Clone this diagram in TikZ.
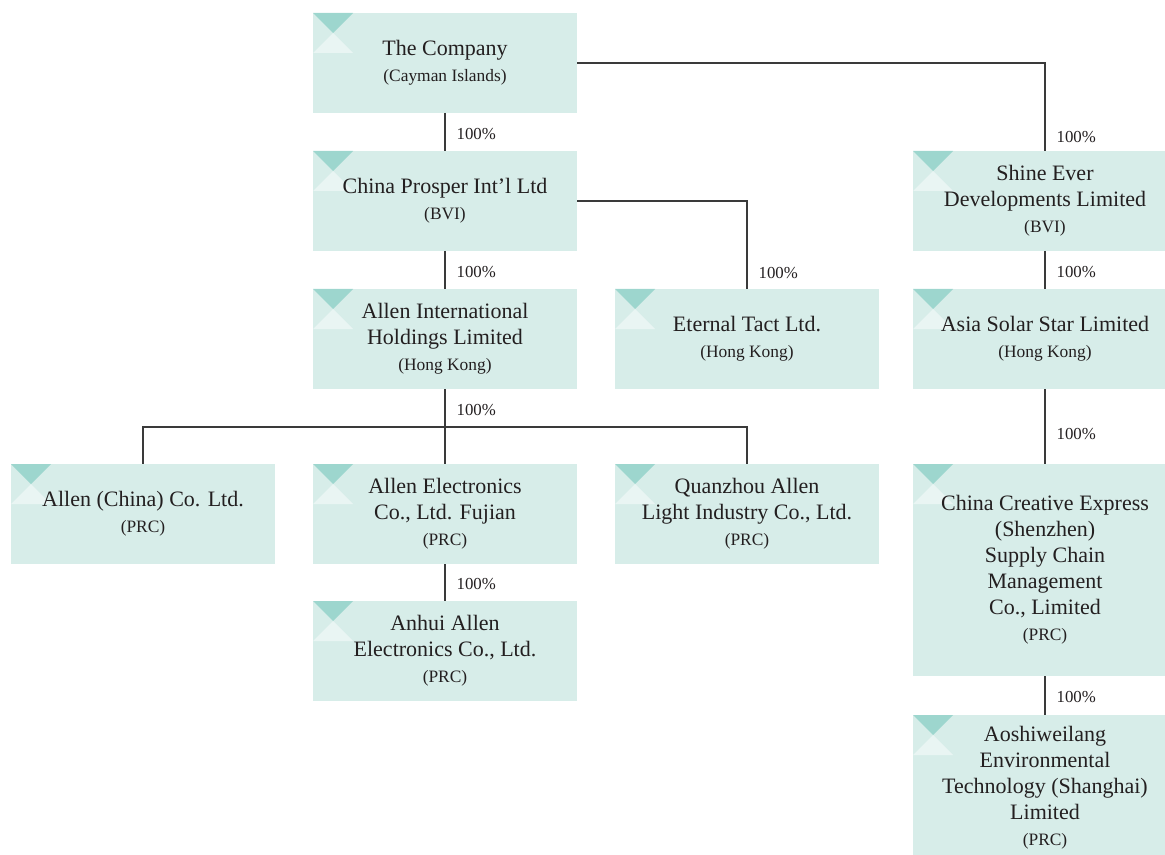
\documentclass[tikz,border=0pt]{standalone}
\usepackage{fontspec}
\setmainfont{Liberation Serif}
\usepackage{xcolor}
\usetikzlibrary{positioning, calc}
\definecolor{boxfill}{HTML}{D7EDE9}
\definecolor{cornerdark}{HTML}{9DD6CE}
\definecolor{cornerlight}{HTML}{E9F5F3}
\definecolor{linkgray}{HTML}{3A3A3A}
\definecolor{textdark}{HTML}{231F20}
\newcommand{\subname}[1]{{\fontsize{8.7}{13}\selectfont #1}}

\tikzset{
  entity/.style={rectangle, fill=boxfill, inner sep=0pt, outer sep=0pt,
    minimum width=132pt, minimum height=50pt, align=center,
    text=textdark, font=\fontsize{11}{13}\selectfont,
    path picture={
      \fill[cornerdark] (path picture bounding box.north west)
        -- ++(20pt,0) -- ++(-10pt,-10pt) -- cycle;
      \fill[cornerlight] (path picture bounding box.north west)
        ++(10pt,-10pt) -- ++(10pt,-10pt) -- ++(-20pt,0) -- cycle;
    }},
  link/.style={draw=linkgray, line width=0.65pt},
  pct/.style={anchor=west, inner sep=0pt, xshift=5.5pt, yshift=-0.8pt,
    text=textdark, font=\fontsize{8.4}{10}\selectfont}
}

\begin{document}
\begin{tikzpicture}[x=0.5pt, y=-0.5pt]

  \clip (0,0) rectangle (1165,855);

  %% Entities
  \node[entity] (company) at (445,63) {The Company\\\subname{(Cayman Islands)}};
  \node[entity] (prosper) at (445,201) {China Prosper Int'l Ltd\\\subname{(BVI)}};
  \node[entity] (allenintl) at (445,339) {Allen International\\Holdings Limited\\\subname{(Hong Kong)}};
  \node[entity] (eternal) at (747,339) {Eternal Tact Ltd.\\\subname{(Hong Kong)}};
  \node[entity] (shine) at (1045,201) {Shine Ever\\Developments Limited\\\subname{(BVI)}};
  \node[entity] (asiasolar) at (1045,339) {Asia Solar Star Limited\\\subname{(Hong Kong)}};
  \node[entity] (allenchina) at (143,514) {Allen (China) Co. Ltd.\\\subname{(PRC)}};
  \node[entity] (fujian) at (445,514) {Allen Electronics\\Co., Ltd. Fujian\\\subname{(PRC)}};
  \node[entity] (quanzhou) at (747,514) {Quanzhou Allen\\Light Industry Co., Ltd.\\\subname{(PRC)}};
  \node[entity] (anhui) at (445,651) {Anhui Allen\\Electronics Co., Ltd.\\\subname{(PRC)}};
  \node[entity, minimum height=106pt] (creative) at (1045,570)
    {China Creative Express\\(Shenzhen)\\Supply Chain\\Management\\Co., Limited\\\subname{(PRC)}};
  \node[entity, minimum height=73pt] (aoshi) at (1045,788)
    {Aoshiweilang\\Environmental\\Technology (Shanghai)\\Limited\\\subname{(PRC)}};

  %% Ownership links
  \draw[link] (company) -- node[pct] {100\%} (prosper);
  \draw[link] (company.east) -| node[pct, pos=0.91] {100\%} (shine.north);
  \draw[link] (prosper) -- node[pct] {100\%} (allenintl);
  \draw[link] (prosper.east) -| node[pct, pos=0.9] {100\%} (eternal.north);
  \draw[link] (shine) -- node[pct] {100\%} (asiasolar);
  \draw[link] (asiasolar) -- node[pct, pos=0.58] {100\%} (creative);
  \draw[link] (creative) -- node[pct] {100\%} (aoshi);
  \draw[link] (fujian) -- node[pct] {100\%} (anhui);

  %% Allen International to its three subsidiaries
  \coordinate (bus) at ($(allenintl.south)+(0,38)$);
  \draw[link] (allenintl.south) -- node[pct] {100\%} (bus);
  \draw[link] (bus) -| (allenchina.north);
  \draw[link] (bus) -- (fujian.north);
  \draw[link] (bus) -| (quanzhou.north);

\end{tikzpicture}
\end{document}
